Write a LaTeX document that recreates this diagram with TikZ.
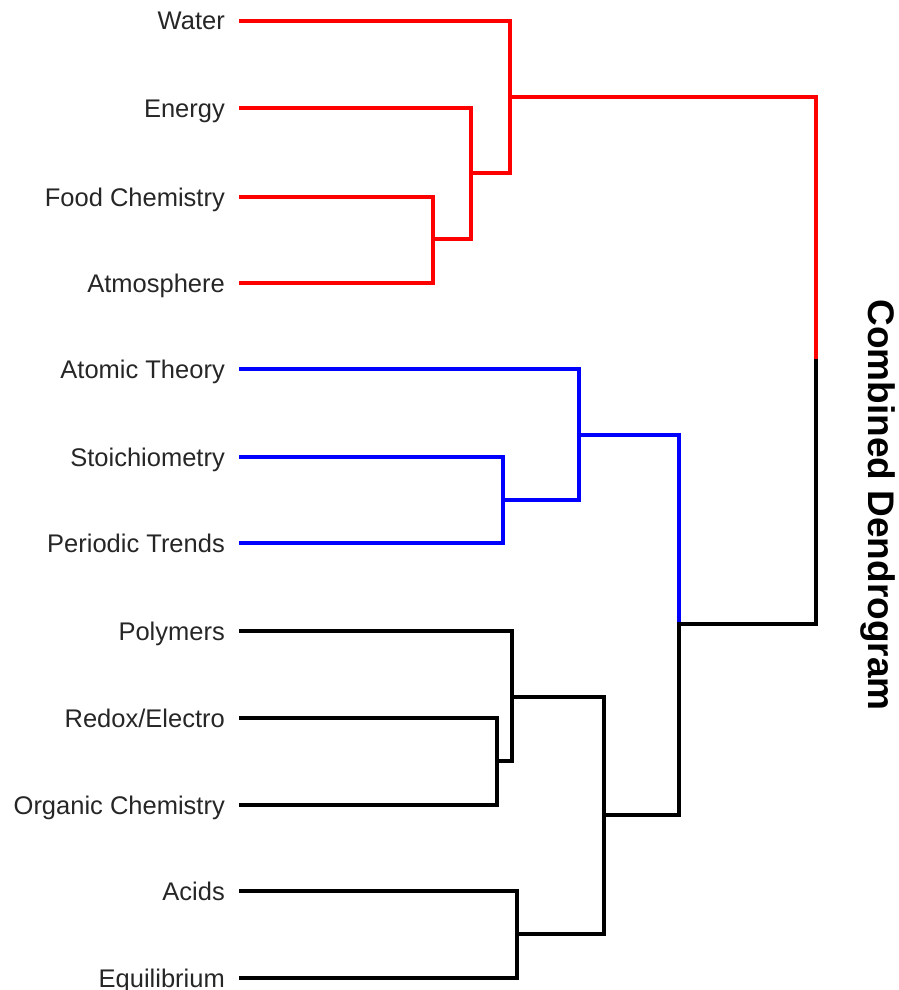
\documentclass[tikz,border=0pt]{standalone}
\usepackage{fontspec}
\setmainfont{Liberation Sans}
\begin{document}
\begin{tikzpicture}[x=1pt,y=-1pt,
  lbl/.style={anchor=base east,inner sep=0pt,text=black!85,font=\fontsize{25.5}{30}\selectfont},
  br/.style={line width=3.2pt,line join=miter,line cap=rect},
  rbr/.style={br,draw={rgb,255:red,255;green,0;blue,0}},
  bbr/.style={br,draw={rgb,255:red,0;green,0;blue,255}},
  kbr/.style={br,draw=black}]
\useasboundingbox (0,0) rectangle (898,990);
% leaf labels
\node[lbl] (water) at (225,30) {Water};
\node[lbl] (energy) at (225,117) {Energy};
\node[lbl] (food) at (225,206) {Food Chemistry};
\node[lbl] (atm) at (225,292) {Atmosphere};
\node[lbl] (atomic) at (225,378) {Atomic Theory};
\node[lbl] (stoich) at (225,466) {Stoichiometry};
\node[lbl] (periodic) at (225,552) {Periodic Trends};
\node[lbl] (poly) at (225,640) {Polymers};
\node[lbl] (redox) at (225,727) {Redox/Electro};
\node[lbl] (organic) at (225,814) {Organic Chemistry};
\node[lbl] (acids) at (225,900) {Acids};
\node[lbl] (equil) at (225,987) {Equilibrium};
% leaf ends
\coordinate (water-l) at (241,21);
\coordinate (energy-l) at (241,108);
\coordinate (food-l) at (241,197);
\coordinate (atm-l) at (241,283);
\coordinate (atomic-l) at (241,369);
\coordinate (stoich-l) at (241,457);
\coordinate (periodic-l) at (241,543);
\coordinate (poly-l) at (241,631);
\coordinate (redox-l) at (241,718);
\coordinate (organic-l) at (241,805);
\coordinate (acids-l) at (241,891);
\coordinate (equil-l) at (241,978);
% merge points
\coordinate (fa) at (433,239);
\coordinate (efa) at (471,173);
\coordinate (wefa) at (510,97);
\coordinate (sp) at (503,500);
\coordinate (asp) at (579,435);
\coordinate (ro) at (497,761);
\coordinate (pro) at (512,697);
\coordinate (ae) at (517,934);
\coordinate (prae) at (604,815);
\coordinate (bc) at (679,624);
\coordinate (root) at (816,361);
% red cluster
\draw[rbr] (food-l) -| (fa) |- (atm-l);
\draw[rbr] (energy-l) -| (efa) |- (fa);
\draw[rbr] (water-l) -| (wefa) |- (efa);
\draw[rbr] (wefa) -| (root);
% blue cluster
\draw[bbr] (stoich-l) -| (sp) |- (periodic-l);
\draw[bbr] (atomic-l) -| (asp) |- (sp);
\draw[bbr] (asp) -| (bc);
% black cluster
\draw[kbr] (redox-l) -| (ro) |- (organic-l);
\draw[kbr] (poly-l) -| (pro) |- (ro);
\draw[kbr] (acids-l) -| (ae) |- (equil-l);
\draw[kbr] (pro) -| (prae) |- (ae);
\draw[kbr] (bc) |- (prae);
\draw[kbr] (root) |- (bc);
% title
\node[rotate=-90,inner sep=0pt,font=\bfseries\fontsize{37}{44}\selectfont] (title) at (878,505) {Combined Dendrogram};
\end{tikzpicture}
\end{document}
